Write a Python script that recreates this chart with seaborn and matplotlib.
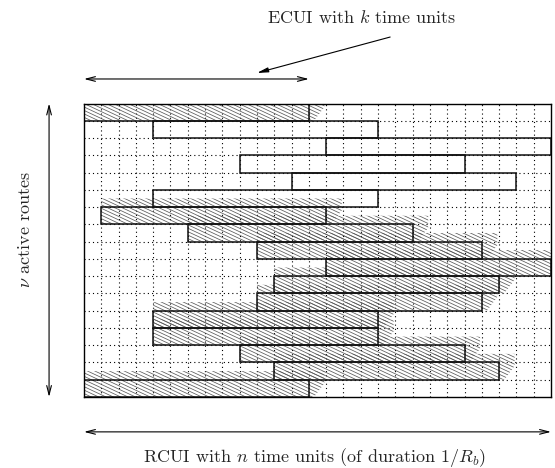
import numpy as np
import matplotlib
matplotlib.use("Agg")
import matplotlib.pyplot as plt
import seaborn as sns
from matplotlib.patches import Polygon
from matplotlib.collections import LineCollection

# ---- data -------------------------------------------------------------
n_units = 27          # RCUI length (time units)
k_units = 13          # ECUI length (time units)
nu_routes = 17        # active routes (rows)
row_starts = [0, 4, 14, 9, 12, 4, 1, 6, 10, 14, 11, 10, 4, 4, 9, 11, 0]
row_hatched = [True, False, False, False, False, False, True, True, True,
               True, True, True, True, True, True, True, True]

txt_top = r"ECUI with $k$ time units"
txt_left = r"$\nu$ active routes"
txt_bottom = r"RCUI with $n$ time units (of duration $1/R_b$)"

# ---- style ------------------------------------------------------------
sns.set_theme(style="white")
plt.rcParams["font.family"] = ["cmr10", "DejaVu Serif"]
plt.rcParams["mathtext.fontset"] = "cm"
plt.rcParams["axes.formatter.use_mathtext"] = True

fig = plt.figure(figsize=(5.55, 4.68), dpi=100)
ax = fig.add_axes([84 / 555, 1 - 397 / 468, 467 / 555, 293.5 / 468])
ax.set_xlim(0, n_units)
ax.set_ylim(nu_routes, 0)

# dotted grid
ax.set_xticks(np.arange(1, n_units))
ax.set_yticks(np.arange(1, nu_routes))
ax.tick_params(length=0, labelbottom=False, labelleft=False)
ax.grid(True, color="black", linestyle=(0, (1, 2.8)), linewidth=0.8)
ax.set_axisbelow(True)
for sp in ax.spines.values():
    sp.set_color("black")
    sp.set_linewidth(1.0)
    sp.set_zorder(5)

# hatched shadows (custom shallow hatch, clipped to each region)
c_vals = np.arange(-20, 20, 0.2)
xs = np.array([-2.0, n_units + 2.0])
segs = [np.column_stack([xs, 0.47 * xs + c]) for c in c_vals]
for i, (s, h) in enumerate(zip(row_starts, row_hatched)):
    if not h:
        continue
    e = s + k_units
    verts = np.array([(s, i + 1), (s, i - 0.5), (e + 0.9, i - 0.5),
                      (e + 0.9, i + 0.2), (e + 0.3, i + 1)], dtype=float)
    verts[:, 0] = np.clip(verts[:, 0], 0, n_units)
    verts[:, 1] = np.clip(verts[:, 1], 0, nu_routes)
    clip_poly = Polygon(verts, closed=True, transform=ax.transData,
                        fill=False, edgecolor="none")
    lc = LineCollection(segs, colors="#5a5a5a", linewidths=0.55, zorder=2)
    ax.add_collection(lc)
    lc.set_clip_path(clip_poly)

# bars (ECUI windows)
ax.barh(y=np.arange(nu_routes) + 0.5, width=k_units, left=row_starts,
        height=1.0, fill=False, edgecolor="#111111", linewidth=1.1, zorder=3)

# ---- annotations ------------------------------------------------------
arr = dict(arrowstyle="<->,head_length=0.55,head_width=0.14", lw=0.8,
           color="black", shrinkA=0, shrinkB=0)
ax.annotate("", xy=(0, -1.42), xytext=(k_units, -1.42), arrowprops=arr,
            annotation_clip=False)
ax.annotate("", xy=(0, 19.02), xytext=(n_units, 19.02), arrowprops=arr,
            annotation_clip=False)
ax.annotate("", xy=(-2.02, 0), xytext=(-2.02, nu_routes), arrowprops=arr,
            annotation_clip=False)
ax.annotate("", xy=(10.0, -1.77), xytext=(17.7, -3.85),
            arrowprops=dict(arrowstyle="-|>,head_length=0.55,head_width=0.12",
                            lw=0.8, color="black", shrinkA=0, shrinkB=0),
            annotation_clip=False)

ax.text(16.07, -5.0, txt_top, ha="center", va="center", fontsize=13,
        clip_on=False)
ax.text(-3.4, 7.3, txt_left, ha="center", va="center", fontsize=13,
        rotation=90, clip_on=False)
ax.text(13.35, 20.5, txt_bottom, ha="center", va="center", fontsize=13,
        clip_on=False)

fig.savefig("out.png", dpi=100)
